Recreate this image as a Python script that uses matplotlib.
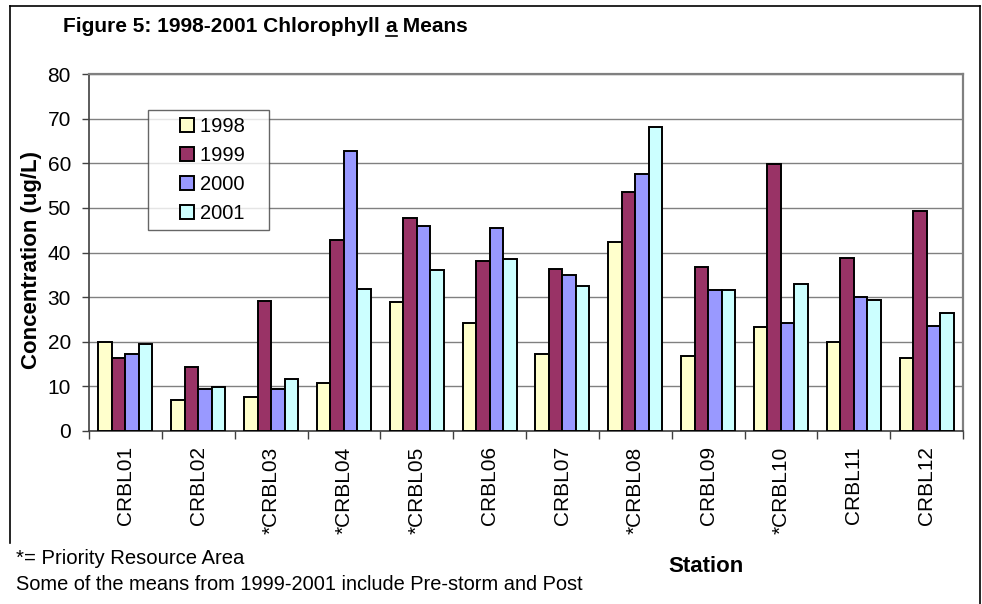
import matplotlib
matplotlib.use("Agg")
import matplotlib.pyplot as plt
import numpy as np
from matplotlib.lines import Line2D

plt.rcParams['font.family'] = ['Liberation Sans', 'DejaVu Sans']

stations = ["CRBL01", "CRBL02", "*CRBL03", "*CRBL04", "*CRBL05", "CRBL06",
            "CRBL07", "*CRBL08", "CRBL09", "*CRBL10", "CRBL11", "CRBL12"]
years = ["1998", "1999", "2000", "2001"]
v1998 = [20.0, 6.9, 7.7, 10.7, 28.9, 24.3, 17.3, 42.4, 16.9, 23.2, 19.9, 16.3]
v1999 = [16.3, 14.3, 29.2, 42.8, 47.7, 38.2, 36.4, 53.6, 36.7, 59.8, 38.7, 49.2]
v2000 = [17.3, 9.4, 9.5, 62.7, 45.9, 45.5, 34.9, 57.7, 31.5, 24.1, 30.0, 23.5]
v2001 = [19.6, 9.9, 11.7, 31.8, 36.1, 38.6, 32.5, 68.2, 31.5, 33.0, 29.4, 26.4]
yticks = [0, 10, 20, 30, 40, 50, 60, 70, 80]

colors = ["#FFFFCC", "#993366", "#9999FF", "#CCFFFF"]
series = [v1998, v1999, v2000, v2001]

W, H = 982, 604
fig = plt.figure(figsize=(W / 100, H / 100), dpi=100)
ax = fig.add_axes([89 / W, 1 - 431 / H, (963 - 89) / W, (431 - 74) / H])

n = len(stations)
x = np.arange(n) + 0.5
bw = 0.185
for i, (vals, c) in enumerate(zip(series, colors)):
    ax.bar(x + (i - 1.5) * bw, vals, width=bw, color=c, edgecolor="black",
           linewidth=1.4, zorder=3, label=years[i])

ax.set_xlim(0, n)
ax.set_ylim(0, 80)
ax.set_yticks(yticks)
ax.yaxis.grid(True, color="#808080", linewidth=1.0, zorder=0)
ax.set_axisbelow(True)

ax.set_xticks(np.arange(n + 1))
ax.set_xticklabels([])
ax.set_xticks(x, minor=True)
ax.set_xticklabels(stations, minor=True, rotation=90, fontsize=15)
ax.tick_params(axis="x", which="major", direction="out", length=6, width=1, color="#404040")
ax.tick_params(axis="x", which="minor", length=0, pad=11)
ax.tick_params(axis="y", direction="out", length=5, width=1, color="#404040", labelsize=15, pad=8)

for s in ["top", "right"]:
    ax.spines[s].set_color("#808080")
    ax.spines[s].set_linewidth(1.6)
for s in ["left", "bottom"]:
    ax.spines[s].set_color("#404040")
    ax.spines[s].set_linewidth(1.2)

ax.set_ylabel("Concentration (ug/L)", fontsize=16, fontweight="bold")
ax.yaxis.set_label_coords(-(89 - 32) / (963 - 89), 1 - (260 - 74) / (431 - 74))
ax.yaxis.label.set_va("center")

handles = [Line2D([], [], linestyle="none", marker="s", markersize=10.5,
                  markerfacecolor=c, markeredgecolor="black", markeredgewidth=1.4)
           for c in colors]
leg = ax.legend(handles, [y + "   " for y in years], loc="upper left",
                bbox_to_anchor=((148 - 89) / (963 - 89), 1 - (110 - 74) / (431 - 74)),
                fontsize=14.5, frameon=True, fancybox=False, edgecolor="#404040",
                handlelength=3.15, handletextpad=-0.9,
                borderpad=0.35, labelspacing=0.5, borderaxespad=0)
leg.get_frame().set_linewidth(1.0)

# figure frame (left, top, right edges)
fig.add_artist(Line2D([10 / W, 10 / W], [1 - 543 / H, 1 - 6 / H], color="black", lw=1.2, transform=fig.transFigure))
fig.add_artist(Line2D([10 / W, 980 / W], [1 - 6 / H, 1 - 6 / H], color="black", lw=1.2, transform=fig.transFigure))
fig.add_artist(Line2D([980 / W, 980 / W], [0, 1 - 6 / H], color="black", lw=1.2, transform=fig.transFigure))

# title with underlined 'a'
fig.canvas.draw()
r = fig.canvas.get_renderer()
tx, ty = 63, 27
tfs = 15
t1 = fig.text(tx / W, 1 - ty / H, "Figure 5: 1998-2001 Chlorophyll ", fontsize=tfs, fontweight="bold", va="center")
bb1 = t1.get_window_extent(r)
t2 = fig.text(bb1.x1 / W, 1 - ty / H, "a", fontsize=tfs, fontweight="bold", va="center")
bb2 = t2.get_window_extent(r)
t3 = fig.text(bb2.x1 / W, 1 - ty / H, " Means", fontsize=tfs, fontweight="bold", va="center")
fig.add_artist(Line2D([bb2.x0 / W, bb2.x1 / W], [(bb2.y0 + 1) / H, (bb2.y0 + 1) / H],
                      color="black", lw=1.2, transform=fig.transFigure))

fig.text(16 / W, 1 - 558 / H, "*= Priority Resource Area", fontsize=14.6, va="center")
fig.text(16 / W, 1 - 585 / H, "Some of the means from 1999-2001 include Pre-storm and Post", fontsize=14.4, va="center")
fig.text(706 / W, 1 - 566 / H, "Station", fontsize=16, fontweight="bold", va="center", ha="center")

fig.savefig("out.png", dpi=100)
